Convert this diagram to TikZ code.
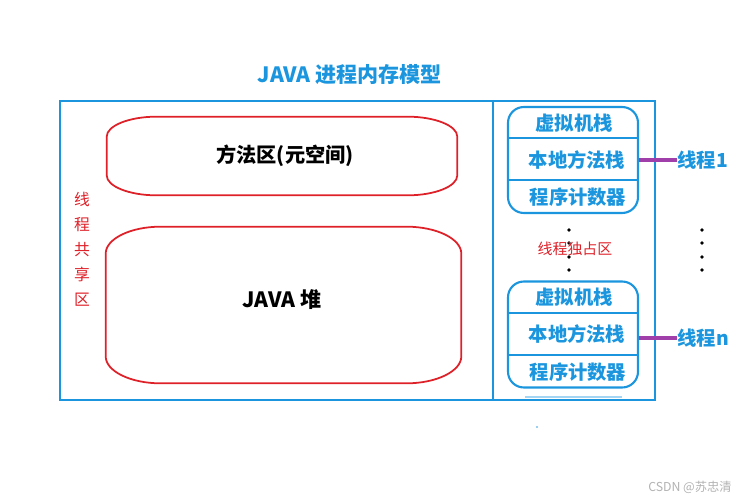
\documentclass[tikz,border=0pt]{standalone}
\usepackage{fontspec}
\setmainfont{Noto Sans CJK SC}
\usepackage{tikz}
\usetikzlibrary{positioning, calc}

\definecolor{jvblue}{RGB}{27,150,222}
\definecolor{jvred}{RGB}{222,32,40}
\definecolor{jvpurple}{RGB}{160,62,170}

% outline of a shared region around node #1, corner sizes #2 (across) and #3 (down)
\newcommand{\pillbox}[3]{%
    \draw[jvred, line width=1pt]
        ($(#1.north west)+(#2,0)$) -- ($(#1.north east)+(-#2,0)$)
        .. controls ($(#1.north east)+(-0.45*#2,0)$) and ($(#1.north east)+(0,0.45*#3)$) .. ($(#1.north east)+(0,#3)$)
        -- ($(#1.south east)+(0,-#3)$)
        .. controls ($(#1.south east)+(0,-0.45*#3)$) and ($(#1.south east)+(-0.45*#2,0)$) .. ($(#1.south east)+(-#2,0)$)
        -- ($(#1.south west)+(#2,0)$)
        .. controls ($(#1.south west)+(0.45*#2,0)$) and ($(#1.south west)+(0,-0.45*#3)$) .. ($(#1.south west)+(0,-#3)$)
        -- ($(#1.north west)+(0,#3)$)
        .. controls ($(#1.north west)+(0,0.45*#3)$) and ($(#1.north west)+(0.45*#2,0)$) .. cycle;}

\tikzset{
    region/.style={inner sep=0pt},
    stackbox/.style={draw=jvblue, line width=1.2pt, rounded corners=9pt,
        minimum width=2.6cm, minimum height=2.12cm},
    bluetext/.style={text=jvblue, font=\fontsize{11}{13}\selectfont\bfseries, inner sep=0pt},
    threadlink/.style={jvpurple, line width=2pt}
}

\begin{document}
\begin{tikzpicture}[x=0.02cm, y=-0.02cm]
    \useasboundingbox (0,0) rectangle (750,500);

    % Title
    \node[bluetext, font=\fontsize{12}{14}\selectfont\bfseries] (title) at (350,75) {JAVA 进程内存模型};

    % Process frame
    \draw[jvblue, line width=1.2pt] (60,101) rectangle (655,400);
    \draw[jvblue, line width=1.2pt] (493,101) -- (493,400);

    % Shared area
    \node[region, minimum width=7cm, minimum height=1.56cm] (meta) at (282,156) {};
    \pillbox{meta}{50}{20}
    \node[font=\fontsize{11.5}{13}\selectfont\bfseries] at (285,156) {方法区(元空间)};
    \node[region, minimum width=7.1cm, minimum height=3.12cm] (heap) at (283.5,305) {};
    \pillbox{heap}{55}{27}
    \node[font=\fontsize{12}{14}\selectfont\bfseries] at (282,300) {JAVA 堆};
    \node[text=jvred, align=center, font=\fontsize{9}{14.2}\selectfont] (shared) at (82,249)
        {线\\程\\共\\享\\区};

    % Thread 1
    \node[stackbox] (stack1) at (573,160) {};
    \draw[jvblue, line width=1.2pt] (508,138) -- (638,138);
    \draw[jvblue, line width=1.2pt] (508,180) -- (638,180);
    \node[bluetext] (vm1) at (574,123) {虚拟机栈};
    \node[bluetext] (native1) at (577,160) {本地方法栈};
    \node[bluetext] (pc1) at (578,197) {程序计数器};
    \node[bluetext, anchor=west] (thread1) at (677,160) {线程1};
    \draw[threadlink] (stack1.east) -- (thread1.west);

    % Thread n
    \node[stackbox] (stackn) at (573,334.5) {};
    \draw[jvblue, line width=1.2pt] (508,313) -- (638,313);
    \draw[jvblue, line width=1.2pt] (508,355) -- (638,355);
    \node[bluetext] (vmn) at (574,297) {虚拟机栈};
    \node[bluetext] (nativen) at (577,334) {本地方法栈};
    \node[bluetext] (pcn) at (578,372) {程序计数器};
    \node[bluetext, anchor=west] (threadn) at (677,338) {线程n};
    \draw[threadlink] (stackn.east |- threadn.west) -- (threadn.west);

    % Dots
    \foreach \y in {230,243,257,270} {
        \fill (569,\y) circle (1.1pt);
        \fill (702,\y) circle (1.1pt);
    }
    \node[text=jvred, font=\fontsize{8.5}{10}\selectfont] (private) at (575,249) {线程独占区};

    % Leftover marks
    \draw[jvblue!40, line width=0.6pt] (525,397) -- (622,397);
    \fill[jvblue!60] (537,427) circle (0.6pt);

    % Watermark
    \node[text=black!30, font=\fontsize{7}{8}\selectfont] (mark) at (690,487) {CSDN @苏忠清};
\end{tikzpicture}
\end{document}
